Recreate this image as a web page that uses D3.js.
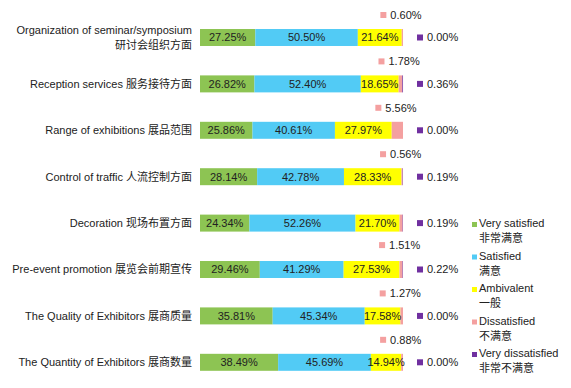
<!DOCTYPE html>
<html>
<head>
<meta charset="utf-8">
<script src="https://cdn.jsdelivr.net/npm/d3@7"></script>
<style>
  body { margin: 0; background: #fff; }
  svg text { font-family: "Liberation Sans", Arial, "Noto Sans CJK SC", sans-serif; fill: #222; }
</style>
</head>
<body>
<div id="chart"></div>
<script>
const width = 571;
const height = 388;

const catEn = [
  "Organization of seminar/symposium",
  "Reception services",
  "Range of exhibitions",
  "Control of traffic",
  "Decoration",
  "Pre-event promotion",
  "The Quality of Exhibitors",
  "The Quantity of Exhibitors",
];
const catZh = [
  "研讨会组织方面",
  "服务接待方面",
  "展品范围",
  "人流控制方面",
  "现场布置方面",
  "展览会前期宣传",
  "展商质量",
  "展商数量",
];

const verySatisfied = [27.25, 26.82, 25.86, 28.14, 24.34, 29.46, 35.81, 38.49];
const satisfied = [50.5, 52.4, 40.61, 42.78, 52.26, 41.29, 45.34, 45.69];
const ambivalent = [21.64, 18.65, 27.97, 28.33, 21.7, 27.53, 17.58, 14.94];
const dissatisfied = [0.6, 1.78, 5.56, 0.56, 1.51, 1.5, 1.27, 0.88];
const veryDissatisfied = [0.0, 0.36, 0.0, 0.19, 0.19, 0.22, 0.0, 0.0];

const seriesEn = ["Very satisfied", "Satisfied", "Ambivalent", "Dissatisfied", "Very dissatisfied"];
const seriesZh = ["非常满意", "满意", "一般", "不满意", "非常不满意"];
const colors = ["#8dc453", "#52cbf5", "#ffff00", "#f4a0a0", "#7030a0"];

const keys = ["vs", "s", "a", "d", "vd"];
const data = catEn.map(function (c, i) {
  return {
    cat: c,
    vs: verySatisfied[i],
    s: satisfied[i],
    a: ambivalent[i],
    d: dissatisfied[i],
    vd: veryDissatisfied[i],
  };
});

const stack = d3.stack().keys(keys);
const series = stack(data);

const x = d3.scaleLinear().domain([0, 100]).range([200, 403]);
const y = d3
  .scaleBand()
  .domain(catEn)
  .range([29, 370.8])
  .paddingInner(0.634)
  .paddingOuter(0);

const fmt = function (v) {
  return v.toFixed(2) + "%";
};

const svg = d3
  .select("#chart")
  .append("svg")
  .attr("width", width)
  .attr("height", height);

// category labels
const catG = svg.append("g");
catEn.forEach(function (c, i) {
  const cy = y(c) + y.bandwidth() / 2;
  const full = c + " " + catZh[i];
  if (full.length > 36) {
    catG.append("text").attr("x", 192).attr("y", cy - 7).attr("dy", "0.35em")
      .attr("text-anchor", "end").attr("font-size", 11).text(c);
    catG.append("text").attr("x", 192).attr("y", cy + 7.5).attr("dy", "0.35em")
      .attr("text-anchor", "end").attr("font-size", 11).text(catZh[i]);
  } else {
    catG.append("text").attr("x", 192).attr("y", cy).attr("dy", "0.35em")
      .attr("text-anchor", "end").attr("font-size", 11).text(full);
  }
});

// bars
const groups = svg
  .selectAll("g.series")
  .data(series)
  .enter()
  .append("g")
  .attr("class", "series")
  .attr("fill", function (d, i) {
    return colors[i];
  });

groups
  .selectAll("rect")
  .data(function (d) {
    return d;
  })
  .enter()
  .append("rect")
  .attr("x", function (d) {
    return x(d[0]);
  })
  .attr("y", function (d) {
    return y(d.data.cat);
  })
  .attr("width", function (d) {
    return x(d[1]) - x(d[0]);
  })
  .attr("height", y.bandwidth());

// in-bar labels for the first three series
series.slice(0, 3).forEach(function (s) {
  svg
    .append("g")
    .selectAll("text")
    .data(s)
    .enter()
    .append("text")
    .attr("x", function (d) {
      return (x(d[0]) + x(d[1])) / 2;
    })
    .attr("y", function (d) {
      return y(d.data.cat) + y.bandwidth() / 2;
    })
    .attr("dy", "0.35em")
    .attr("text-anchor", "middle")
    .attr("font-size", 11)
    .text(function (d) {
      return fmt(d[1] - d[0]);
    });
});

// dissatisfied callouts (placed above the bar, Decoration's sits below it, Pre-event has none)
const dissG = svg.append("g");
series[3].forEach(function (d, i) {
  const cat = d.data.cat;
  if (cat === "Pre-event promotion") return;
  const mid = (x(d[0]) + x(d[1])) / 2;
  const below = cat === "Decoration";
  const cy = below ? y(cat) + y.bandwidth() + 13.5 : y(cat) - 14;
  dissG.append("rect").attr("x", mid - 22).attr("y", cy - 3).attr("width", 6).attr("height", 6)
    .attr("fill", colors[3]);
  dissG.append("text").attr("x", mid - 12).attr("y", cy).attr("dy", "0.35em")
    .attr("font-size", 11).text(fmt(dissatisfied[i]));
});

// very dissatisfied callouts to the right
const vdG = svg.append("g");
series[4].forEach(function (d, i) {
  const cy = y(d.data.cat) + y.bandwidth() / 2;
  vdG.append("rect").attr("x", x(100) + 14).attr("y", cy - 3).attr("width", 6).attr("height", 6)
    .attr("fill", colors[4]);
  vdG.append("text").attr("x", x(100) + 24).attr("y", cy).attr("dy", "0.35em")
    .attr("font-size", 11).text(fmt(veryDissatisfied[i]));
});

// legend
const legend = svg.append("g").attr("transform", "translate(472,0)");
seriesEn.forEach(function (s, i) {
  const by = 227 + i * 32.5;
  legend.append("rect").attr("x", 0).attr("y", by - 5).attr("width", 5).attr("height", 5)
    .attr("fill", colors[i]);
  legend.append("text").attr("x", 7).attr("y", by).attr("font-size", 11).text(s);
  legend.append("text").attr("x", 7).attr("y", by + 15).attr("font-size", 11).text(seriesZh[i]);
});
</script>
</body>
</html>
